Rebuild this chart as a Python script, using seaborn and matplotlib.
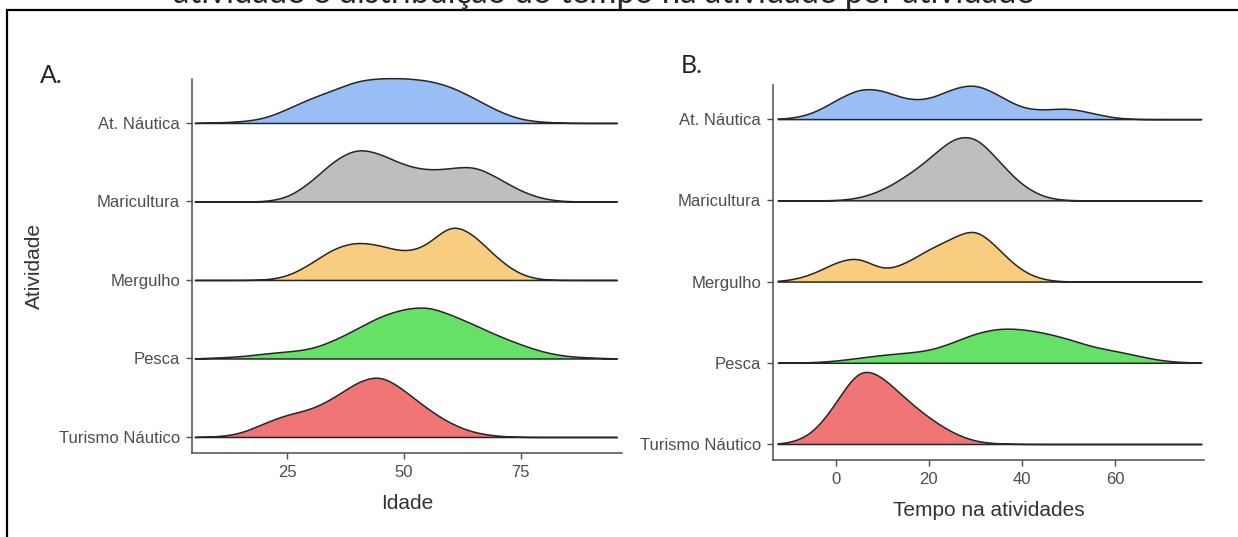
import numpy as np
import matplotlib
matplotlib.use('Agg')
import matplotlib.pyplot as plt
from matplotlib.patches import Rectangle
import seaborn as sns

# categorias (de baixo para cima)
atividades = ['Turismo Náutico', 'Pesca', 'Mergulho', 'Maricultura', 'At. Náutica']
cores = ['#F07575', '#66E066', '#F8CD7F', '#BEBEBE', '#99BEF5']

# A. idade (frequencia por classe de 5 anos)
idade = [5, 10, 15, 20, 25, 30, 35, 40, 45, 50, 55, 60, 65, 70, 75, 80, 85, 90, 95]
idade_turismo = [0, 0.5, 3, 14, 23, 27, 39, 56, 64, 47, 28, 13, 4, 1, 0, 0, 0, 0, 0]
idade_pesca = [0, 1, 2, 5, 7, 9, 18, 30, 43, 50, 53, 44, 34, 23, 14, 6, 2, 1, 0]
idade_mergulho = [0, 0, 0, 0, 3, 16, 33, 39, 35, 27, 33, 60, 46, 21, 4, 0, 0, 0, 0]
idade_maricultura = [0, 0, 0, 0, 3, 19, 42, 55, 48, 36, 31, 33, 37, 24, 10, 2, 0, 0, 0]
idade_nautica = [0, 0.5, 1.5, 4, 14, 25, 33, 43, 45, 45, 43, 37, 25, 12, 3, 1, 0, 0, 0]

# B. tempo na atividade (anos)
tempo = [-10, -5, 0, 5, 10, 15, 20, 25, 30, 35, 40, 45, 50, 55, 60, 65, 70, 75]
tempo_turismo = [0.5, 9, 40, 81, 68, 45, 26, 11, 2, 0.5, 0, 0, 0, 0, 0, 0, 0, 0]
tempo_pesca = [0, 0.5, 2, 5, 8, 10, 12, 20, 30, 35, 34, 30, 24, 16, 12, 7, 2, 0.5]
tempo_mergulho = [1, 7, 20, 27, 9, 18, 33, 43, 57, 32, 9, 1, 0, 0, 0, 0, 0, 0]
tempo_maricultura = [0, 0, 0, 2, 10, 24, 41, 64, 67, 39, 14, 2, 0, 0, 0, 0, 0, 0]
tempo_nautica = [0.5, 5, 19, 32, 30, 19, 19, 31, 37, 24, 10, 9, 12, 6, 1, 0, 0, 0]

W, H = 1238, 537
BW = 3.3
EDGE = '#262626'
AXC = '#4d4d4d'

sns.set_style('ticks')
plt.rcParams['font.family'] = ['Liberation Sans', 'DejaVu Sans']

fig = plt.figure(figsize=(W / 100, H / 100), dpi=100)

paineis = [
    dict(rect=[192 / W, 1 - 453 / H, 430 / W, 374 / H], grid=idade,
         series=[idade_turismo, idade_pesca, idade_mergulho, idade_maricultura, idade_nautica],
         xlim=(4.6, 96.7), clip=(5.2, 95.6), ylim=(-0.204, 4.56), scale=5 / 78.5,
         xticks=[25, 50, 75], xlabel='Idade', ylabel='Atividade'),
    dict(rect=[773 / W, 1 - 460 / H, 431 / W, 375 / H], grid=tempo,
         series=[tempo_turismo, tempo_pesca, tempo_mergulho, tempo_maricultura, tempo_nautica],
         xlim=(-13.5, 79.1), clip=(-12.5, 78.5), ylim=(-0.197, 4.42), scale=5 / 81.2,
         xticks=[0, 20, 40, 60], xlabel='Tempo na atividades', ylabel=None),
]

for p in paineis:
    ax = fig.add_axes(p['rect'])
    ax.set_xlim(p['xlim'])
    ax.set_ylim(p['ylim'])
    x0, x1 = p['xlim']
    for r, (vals, cor) in enumerate(zip(p['series'], cores)):
        # one transparent axes per ridge, stacked on the category row
        sub = ax.inset_axes([x0, r - 0.05, x1 - x0, 1.05], transform=ax.transData,
                            zorder=10 - r)
        x = np.array(p['grid'], dtype=float)
        w = np.array(vals, dtype=float)
        bw = BW / np.sqrt(np.cov(x, aweights=w))
        sns.kdeplot(x=x, weights=w, ax=sub, fill=True, color=cor, alpha=1,
                    edgecolor=EDGE, linewidth=1.1, bw_method=bw, cut=5,
                    clip=p['clip'], gridsize=600)
        rpd = w.sum() * p['scale']
        sub.set_xlim(p['xlim'])
        sub.set_ylim(-0.05 / rpd, 1.0 / rpd)
        sub.set_xticks([])
        sub.set_yticks([])
        sub.set_xlabel('')
        sub.set_ylabel('')
        sub.axis('off')
    ax.set_yticks(range(len(atividades)))
    ax.set_yticklabels(atividades)
    ax.set_xticks(p['xticks'])
    sns.despine(ax=ax)
    for s in ['left', 'bottom']:
        ax.spines[s].set_color(AXC)
        ax.spines[s].set_linewidth(1.1)
    ax.tick_params(axis='both', length=4.5, width=1, color=AXC, labelcolor=AXC,
                   labelsize=12, pad=4)
    ax.set_xlabel(p['xlabel'], fontsize=15, color='#333333')
    ax.xaxis.set_label_coords(0.5, -0.11)
    if p['ylabel']:
        ax.set_ylabel(p['ylabel'], fontsize=15, color='#333333')
        ax.yaxis.set_label_coords(-0.345, 0.5)

fig.text(40 / W, 1 - 83 / H, 'A.', fontsize=18, family='Lato', va='baseline')
fig.text(681 / W, 1 - 73 / H, 'B.', fontsize=18, family='Lato', va='baseline')
# titulo cortado no topo da imagem original
fig.text(603 / W, 1 - 3 / H, 'atividade e distribuição do tempo na atividade por atividade',
         fontsize=23.7, family='Lato', ha='center', va='baseline')

fig.add_artist(Rectangle((7 / W, -0.1), 1.2, 1.1 - 10 / H, transform=fig.transFigure,
                         fill=False, edgecolor='black', linewidth=1.6))

fig.savefig('out.png', dpi=100, facecolor='white')
